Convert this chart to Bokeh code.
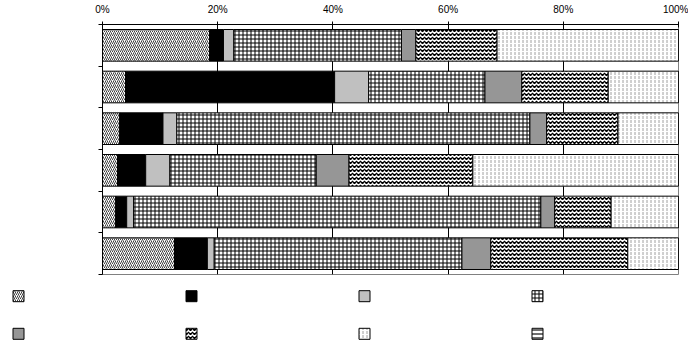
from bokeh.plotting import figure
from bokeh.models import (ColumnDataSource, FixedTicker, PrintfTickFormatter, Range1d)
from bokeh.embed import file_html
from bokeh.resources import INLINE

rows = ["Row 1", "Row 2", "Row 3", "Row 4", "Row 5", "Row 6"]
s1 = [18.6, 4.0, 3.0, 2.6, 2.3, 12.5]
s2 = [2.4, 36.3, 7.5, 4.9, 1.9, 5.7]
s3 = [1.8, 5.9, 2.4, 4.2, 1.2, 1.2]
s4 = [29.1, 20.2, 61.3, 25.4, 70.7, 43.0]
s5 = [2.5, 6.4, 2.9, 5.7, 2.4, 5.0]
s6 = [14.1, 15.0, 12.4, 21.5, 9.8, 23.8]
s7 = [31.5, 12.2, 10.5, 35.7, 11.7, 8.8]
s8 = [0.0, 0.0, 0.0, 0.0, 0.0, 0.0]
x_ticks = [0, 20, 40, 60, 80, 100]

series = ["s1", "s2", "s3", "s4", "s5", "s6", "s7", "s8"]
n = len(rows)
src = ColumnDataSource(dict(
    y=[n - i - 0.5 for i in range(n)], row=rows,
    s1=s1, s2=s2, s3=s3, s4=s4, s5=s5, s6=s6, s7=s7, s8=s8))

fills = ["white", "black", "#c0c0c0", "white", "#969696", "white", "white", "white"]
hatches = ["/", " ", " ", "+", " ", "v", ":", "-"]
hatch_colors = ["#404040", "black", "black", "black", "black", "black", "#a0a0a0", "#707070"]
hatch_scales = [4, 4, 4, 4, 4, 4, 4, 4]
hatch_weights = [1, 1, 1, 1, 1, 1.5, 1, 2]

p = figure(width=688, height=275, x_range=Range1d(0, 100), y_range=Range1d(0, n),
           x_axis_location="above", output_backend="svg", toolbar_location=None,
           min_border_left=102, min_border_right=10, min_border_top=23, min_border_bottom=1)

rs = p.hbar_stack(series, y="y", height=0.76, source=src,
                  fill_color=fills, hatch_pattern=hatches, hatch_color=hatch_colors,
                  hatch_scale=hatch_scales, hatch_weight=hatch_weights,
                  line_color="black", line_width=1)

xa = p.xaxis[0]
xa.ticker = FixedTicker(ticks=x_ticks)
xa.formatter = PrintfTickFormatter(format="%d%%")
xa.major_tick_in = 3
xa.major_tick_out = 3
xa.minor_tick_line_color = None
xa.major_label_standoff = 7
xa.major_label_text_font = "Liberation Sans"
xa.major_label_text_font_size = "10px"
xa.major_label_text_color = "black"
xa.axis_line_color = "black"

ya = p.yaxis[0]
ya.ticker = FixedTicker(ticks=[], minor_ticks=list(range(n + 1)))
ya.minor_tick_in = 0
ya.minor_tick_out = 4
ya.minor_tick_line_color = "black"
ya.axis_line_color = "black"

p.xgrid.ticker = FixedTicker(ticks=[20, 40, 60, 80])
p.xgrid.grid_line_color = "black"
p.ygrid.grid_line_color = None
p.outline_line_color = "#808080"

# legend swatches (the reference shows no legend labels), 4 per row, 2 rows
ncol = 4
col_pitch = 173.0
row_pitch = 37.6
leg_h = 80
leg_w = 688
first_x = 18.0
first_y = 20.7
leg_src = ColumnDataSource(dict(
    col=[i % ncol for i in range(len(series))],
    row=[i // ncol for i in range(len(series))],
    fill=fills, hatch=hatches, hcolor=hatch_colors, hscale=hatch_scales, hweight=hatch_weights))

leg = figure(width=leg_w, height=leg_h,
             x_range=Range1d(-first_x / col_pitch, (leg_w - first_x) / col_pitch),
             y_range=Range1d((leg_h - first_y) / row_pitch, -first_y / row_pitch),
             x_axis_type=None, y_axis_type=None, output_backend="svg",
             toolbar_location=None, min_border=0)
leg.outline_line_color = None
leg.xgrid.grid_line_color = None
leg.ygrid.grid_line_color = None
leg.rect(x="col", y="row", width=11, height=11, width_units="screen", height_units="screen",
         source=leg_src, fill_color="fill", hatch_pattern="hatch", hatch_color="hcolor",
         hatch_scale="hscale", hatch_weight="hweight", line_color="black", line_width=1)

open("out.html", "w").write(file_html([p, leg], INLINE))
